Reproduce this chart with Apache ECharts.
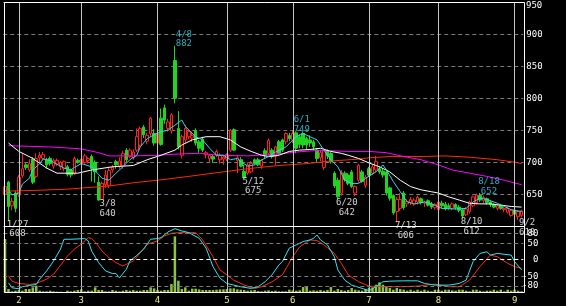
<!DOCTYPE html>
<html><head><meta charset="utf-8">
<script src="https://cdn.jsdelivr.net/npm/echarts@6/dist/echarts.min.js"></script>
<style>html,body{margin:0;padding:0;background:#000;}#c{width:566px;height:306px;}</style>
</head><body><div id="c"></div>
<script>
// ---- trading days (month, day list) ----
const monthDayLists = [
  [1, [26,27,28,29]],
  [2, [1,2,3,4,5,8,9,10,12,15,16,17,18,19,22,23,24,25]],
  [3, [1,2,3,4,7,8,9,10,11,14,15,16,17,18,22,23,24,25,28,29,30,31]],
  [4, [1,4,5,6,7,8,11,12,13,14,15,18,19,20,21,22,25,26,27,28]],
  [5, [2,6,9,10,11,12,13,16,17,18,19,20,23,24,25,26,27,30,31]],
  [6, [1,2,3,6,7,8,9,10,13,14,15,16,17,20,21,22,23,24,27,28,29,30]],
  [7, [1,4,5,6,7,8,11,12,13,14,15,19,20,21,22,25,26,27,28,29]],
  [8, [1,2,3,4,5,8,9,10,12,15,16,17,18,19,22,23,24,25,26,29,30,31]],
  [9, [1,2,5]]
];
// ---- OHLC ----
const opens = [650,669,632,652,649,679,696,688,705,678,707,706,704,706,694,697,693,690,693,688,682,703,698,700,703,709,700,669,642,665,664,688,701,694,694,719,709,707,719,727,755,733,745,745,730,769,785,753,749,859,753,711,735,740,738,750,732,736,712,706,709,711,704,705,705,719,751,703,704,686,683,685,704,704,694,718,714,719,709,732,735,732,742,735,746,740,745,737,735,732,719,707,692,718,714,683,672,652,683,680,685,652,672,685,664,690,683,688,690,686,685,660,648,623,628,652,635,637,635,638,643,636,640,635,629,626,636,634,632,628,634,630,626,618,623,632,637,648,640,643,638,634,628,633,626,622,617,625,615,617];
const closes = [662,631,639,628,677,690,692,698,669,706,711,712,696,698,703,703,700,701,681,680,706,700,705,710,706,690,685,641,667,680,687,692,696,702,714,704,719,716,740,753,743,742,769,730,745,728,766,763,774,800,724,740,753,748,742,730,722,719,715,711,705,717,711,708,712,750,719,707,694,676,696,698,698,696,703,711,734,709,724,714,719,745,737,745,722,728,727,727,730,724,706,715,719,710,701,663,646,684,673,667,662,662,695,670,677,680,693,701,685,680,652,644,621,642,642,629,639,642,641,645,637,638,633,630,634,638,632,628,629,635,629,625,616,627,638,646,649,641,645,637,634,630,632,628,628,628,625,619,623,624];
const lows = [645,608,625,622,646,676,688,685,666,675,700,703,690,695,690,694,688,686,678,676,680,698,695,698,698,670,668,640,641,660,660,684,690,690,690,700,706,704,716,724,738,728,740,726,726,726,760,748,745,792,720,706,730,736,732,726,715,716,706,700,699,708,698,696,702,716,718,683,692,675,680,683,696,694,690,705,710,706,696,712,716,728,733,730,714,722,722,720,724,718,700,702,688,705,698,660,642,648,670,664,660,647,668,668,660,678,680,685,682,676,648,640,618,606,624,626,630,633,632,634,634,630,631,627,626,622,628,625,626,625,626,622,612,616,620,630,634,638,636,634,630,628,625,626,622,620,615,617,610,614];
const highs = [716,671,645,655,680,714,699,705,708,714,716,716,707,709,706,706,702,703,696,690,709,706,708,713,708,712,703,678,670,688,693,696,704,708,718,722,722,720,753,756,758,746,771,752,750,784,790,768,777,882,780,743,758,752,748,753,735,740,718,713,712,720,714,710,714,752,753,710,708,696,700,702,706,707,705,722,737,722,726,735,737,747,746,749,748,744,747,740,742,735,722,720,722,720,716,686,676,688,686,683,688,664,698,688,680,693,696,710,694,690,687,662,650,646,652,655,642,646,644,648,645,640,642,638,636,642,640,638,636,637,636,633,628,630,640,648,651,652,648,645,640,636,634,635,630,630,627,627,625,626];
// ---- volume ----
const volume = [805,55,20,30,40,30,55,55,80,105,30,20,20,30,20,15,15,10,30,20,30,40,50,20,30,30,80,40,40,20,20,40,30,20,30,40,30,40,30,30,40,40,80,65,40,30,40,40,130,845,180,55,80,30,60,60,50,40,40,40,40,45,50,50,55,65,65,50,45,40,30,35,40,25,20,30,35,25,30,20,20,20,45,35,30,35,85,85,30,35,30,40,30,40,85,30,55,40,30,40,70,45,35,30,55,75,80,120,155,120,95,70,45,70,55,45,30,45,30,45,30,45,30,20,45,45,30,45,45,35,30,45,45,30,20,45,45,30,20,30,30,45,30,45,20,45,30,45,30,20];
// ---- moving averages read at sampled days [dayIndex, value] ----
const maShort = [[1,657],[2,649],[4,652],[5,666],[7,675],[8,688],[10,698],[11,705],[13,703],[15,697],[17,691],[19,688],[20,692],[22,698],[25,693],[28,675],[30,672],[32,683],[34,693],[36,704],[38,711],[39,724],[41,737],[43,743],[45,748],[47,750],[49,758],[51,766],[52,756],[55,740],[57,735],[59,722],[61,711],[63,711],[65,704],[67,706],[68,701],[70,694],[72,696],[73,701],[76,709],[78,716],[81,724],[84,740],[86,745],[88,740],[90,735],[92,719],[94,704],[96,693],[98,672],[100,667],[102,667],[104,675],[107,685],[109,696],[110,688],[112,670],[114,654],[116,638],[118,635],[121,638],[123,635],[126,628],[130,627],[133,628],[135,638],[137,644],[139,642],[142,636],[144,631],[146,626],[149,623]];
const maMid = [[1,730],[4,717],[8,706],[12,691],[15,683],[21,683],[25,688],[31,693],[37,695],[41,704],[45,711],[49,719],[51,727],[54,735],[58,740],[62,740],[65,735],[68,724],[71,717],[74,711],[76,709],[79,711],[82,717],[85,719],[88,720],[91,722],[94,717],[97,714],[99,711],[102,706],[105,699],[108,693],[111,685],[114,672],[117,662],[120,657],[123,654],[125,652],[128,646],[131,641],[134,636],[137,635],[140,635],[143,633],[146,631],[149,630]];
const maLong = [[1,726],[13,724],[22,721],[27,715],[30,710],[37,710],[44,711],[50,713],[56,714],[62,711],[70,710],[79,713],[84,716],[89,718],[94,718],[99,717],[105,717],[110,715],[115,709],[120,704],[125,696],[129,688],[134,683],[139,678],[144,672],[149,665]];
const maVeryLong = [[0,655],[8,656],[18,658],[25,661],[30,663],[37,668],[44,672],[50,676],[53,678],[60,683],[70,690],[79,695],[87,698],[94,702],[102,705],[105,707],[111,709],[120,709],[127,710],[134,708],[142,704],[146,701],[149,698]];
// ---- oscillator read at sampled days ----
const oscK = [[1,-70],[2,-85],[4,-88],[5,-82],[7,-78],[9,-75],[10,-59],[12,-34],[14,-4],[16,32],[17,62],[19,62],[23,64],[24,57],[25,26],[27,-9],[29,-34],[31,-42],[32,-42],[33,-55],[35,-29],[36,-4],[38,13],[40,32],[42,62],[44,64],[45,67],[47,84],[49,94],[51,87],[52,85],[53,82],[56,65],[58,35],[60,-21],[62,-56],[64,-72],[66,-77],[68,-82],[71,-87],[73,-82],[75,-67],[77,-46],[79,-16],[80,-6],[82,35],[84,45],[86,55],[88,60],[89,65],[90,75],[91,60],[93,45],[95,9],[96,-31],[98,-62],[100,-77],[103,-87],[105,-94],[107,-82],[109,-67],[111,-65],[115,-64],[119,-64],[121,-72],[124,-77],[128,-77],[131,-72],[133,-62],[135,-6],[137,19],[139,24],[140,14],[142,19],[146,14],[147,-6],[149,-31]];
const oscD = [[1,-49],[2,-65],[4,-72],[7,-75],[9,-72],[12,-59],[14,-44],[16,-17],[18,11],[20,32],[22,47],[24,67],[25,64],[26,54],[28,26],[30,6],[32,-9],[34,-19],[35,-14],[37,-4],[39,21],[41,47],[44,57],[46,72],[48,80],[50,82],[52,82],[55,82],[57,60],[60,9],[62,-31],[64,-46],[66,-62],[69,-77],[72,-87],[74,-82],[77,-67],[80,-46],[83,9],[85,39],[88,60],[90,58],[92,45],[95,19],[97,-11],[99,-46],[102,-67],[105,-80],[109,-82],[114,-82],[119,-80],[124,-74],[128,-82],[131,-82],[134,-62],[137,-21],[140,14],[142,9],[145,-11],[147,-21],[149,-26]];
// ---- annotations ----
const highMarks = [{date:'4/8', price:882},{date:'6/1', price:749},{date:'8/18', price:652}];
const lowMarks = [{date:'1/27', price:608},{date:'3/8', price:640},{date:'5/12', price:675},{date:'6/20', price:642},{date:'7/13', price:606},{date:'8/10', price:612},{date:'9/2', price:610}];
// ---- axis ticks ----
const priceTicks = {min:600, max:950, step:50};
const oscTicks = [80,50,0,-50,-80];

// ---- build ----
const categories = [];
const monthStart = [];
monthDayLists.forEach(([m, days]) => {
  days.forEach((d, k) => { if (k === 0 && m !== 1) monthStart.push(categories.length); categories.push(m + '/' + d); });
});
const N = categories.length;
const full = pairs => { const a = new Array(N).fill(null); pairs.forEach(([i, v]) => { a[i] = v; }); return a; };
const ohlc = opens.map((o, i) => [o, closes[i], lows[i], highs[i]]);
const FONT = 'DejaVu Sans Mono';
const monthSet = new Set(monthStart);

const maLine = (data, color) => ({
  type: 'line', data: full(data), xAxisIndex: 0, yAxisIndex: 0, connectNulls: true,
  showSymbol: false, symbol: 'none', silent: true, z: 4,
  lineStyle: { color, width: 1 }
});
const oscLine = (data, color) => ({
  type: 'line', data: full(data), xAxisIndex: 1, yAxisIndex: 2, connectNulls: true,
  showSymbol: false, symbol: 'none', silent: true, z: 4,
  lineStyle: { color, width: 1 }
});
const monthLines = {
  silent: true, symbol: ['none','none'], animation: false,
  label: { show: false }, lineStyle: { color: '#c4c4c4', type: 'solid', width: 1 },
  data: monthStart.map(i => ({ xAxis: categories[i] }))
};

const chart = echarts.init(document.getElementById('c'), null, { renderer: 'canvas' });
chart.setOption({
  backgroundColor: '#000',
  animation: false,
  textStyle: { fontFamily: FONT },
  grid: [
    { left: 3.3, width: 520, top: 2.3, height: 224 },
    { left: 3.3, width: 520, top: 226.7, height: 66 }
  ],
  xAxis: [
    { type: 'category', gridIndex: 0, data: categories, boundaryGap: true,
      axisLine: { show: false }, axisTick: { show: false }, axisLabel: { show: false }, splitLine: { show: false } },
    { type: 'category', gridIndex: 1, data: categories, boundaryGap: true,
      axisLine: { show: false }, axisTick: { show: false }, splitLine: { show: false },
      axisLabel: { show: true, interval: (i) => monthSet.has(i), formatter: v => v.split('/')[0],
        color: '#eeee88', fontSize: 9, fontFamily: FONT, margin: 3 } }
  ],
  yAxis: [
    { type: 'value', gridIndex: 0, position: 'right', min: priceTicks.min, max: priceTicks.max, interval: priceTicks.step,
      axisLine: { show: false }, axisTick: { show: false },
      axisLabel: { color: '#ffffff', fontSize: 9, fontFamily: FONT, margin: 3,
        formatter: v => (v === priceTicks.min || v === priceTicks.max) ? '' : String(v) },
      splitLine: { show: true, lineStyle: { color: '#7c7c7c', type: [4, 3], width: 1 } } },
    { type: 'value', gridIndex: 1, min: 0, max: 990, show: false },
    { type: 'value', gridIndex: 1, position: 'right', min: -100, max: 100, interval: 10,
      axisLine: { show: false }, axisTick: { show: false }, splitLine: { show: false },
      axisLabel: { color: '#ffffff', fontSize: 9, fontFamily: FONT, margin: 15, align: 'right',
        formatter: v => oscTicks.includes(v) ? String(v) : '' } }
  ],
  series: [
    { type: 'line', data: [], xAxisIndex: 0, yAxisIndex: 0, z: 1, markLine: monthLines },
    { type: 'line', data: [], xAxisIndex: 1, yAxisIndex: 2, z: 1, markLine: monthLines },
    { type: 'line', data: [], xAxisIndex: 1, yAxisIndex: 2, z: 1,
      markLine: { silent: true, symbol: ['none','none'], animation: false, label: { show: false },
        data: oscTicks.map(v => ({ yAxis: v, lineStyle: { color: v === 0 ? '#ffffff' : '#7c7c7c', type: [4, 3], width: 1 } })) } },
    { type: 'bar', data: volume, xAxisIndex: 1, yAxisIndex: 1, barWidth: 2.5, z: 2,
      itemStyle: { color: '#8cc43c' }, silent: true },
    { type: 'candlestick', data: ohlc, xAxisIndex: 0, yAxisIndex: 0, barWidth: 3, z: 3,
      itemStyle: { color: '#000000', color0: '#22d422', borderColor: '#ff2020', borderColor0: '#22d422', borderWidth: 1 } },
    maLine(maVeryLong, '#ff2a00'),
    maLine(maLong, '#ff00ff'),
    maLine(maMid, '#ffffff'),
    maLine(maShort, '#30d8f0'),
    oscLine(oscD, '#ff2a10'),
    oscLine(oscK, '#30e4f4'),
    { type: 'scatter', xAxisIndex: 0, yAxisIndex: 0, symbolSize: 0, z: 6, silent: true,
      data: highMarks.map(m => ({ value: [categories.indexOf(m.date), m.price], date: m.date })),
      label: { show: true, position: 'top', distance: 0, offset: [9, 3], align: 'center',
        color: '#30d8f0', fontSize: 9, fontFamily: FONT, lineHeight: 9.5,
        formatter: p => p.data.date + '\n' + p.data.value[1] } },
    { type: 'scatter', xAxisIndex: 0, yAxisIndex: 0, symbolSize: 0, z: 6, silent: true,
      data: lowMarks.map(m => ({ value: [categories.indexOf(m.date), m.price], date: m.date })),
      label: { show: true, position: 'bottom', distance: 0, offset: [9, -1.5], align: 'center',
        color: '#ffffff', fontSize: 9, fontFamily: FONT, lineHeight: 9.5,
        formatter: p => p.data.date + '\n' + p.data.value[1] } }
  ],
  graphic: [
    { type: 'rect', shape: { x: 4.5, y: 2.5, width: 520, height: 290 }, style: { fill: null, stroke: '#ffffff', lineWidth: 1 }, silent: true, z: 10 },
    { type: 'line', shape: { x1: 4.5, y1: 226.5, x2: 524.5, y2: 226.5 }, style: { stroke: '#ffffff', lineWidth: 1 }, silent: true, z: 10 },
    { type: 'text', left: 526, top: 1.5, style: { text: String(priceTicks.max), fill: '#ffffff', font: '9px "' + FONT + '"' }, silent: true, z: 10 }
  ]
});
</script>
</body></html>
